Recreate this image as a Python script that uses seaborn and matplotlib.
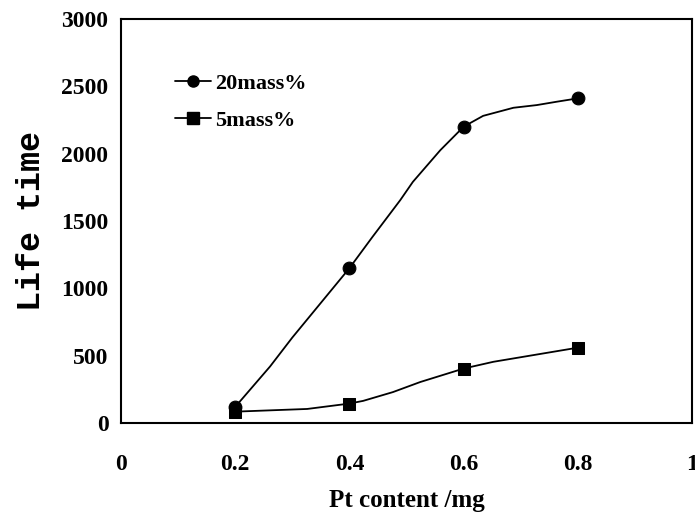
import matplotlib
matplotlib.use("Agg")
import matplotlib.pyplot as plt
from matplotlib.lines import Line2D
import seaborn as sns
import pandas as pd

# measured points (markers)
pt_content = [0.2, 0.4, 0.6, 0.8]
life_20 = [120, 1150, 2200, 2410]
life_5 = [80, 145, 405, 560]

# smoothed curve
curve_x_20 = [0.2, 0.261, 0.3, 0.4, 0.44, 0.489, 0.511, 0.559, 0.6, 0.634, 0.687, 0.728, 0.763, 0.8]
curve_y_20 = [120, 420, 635, 1150, 1380, 1655, 1790, 2025, 2200, 2280, 2340, 2360, 2385, 2410]
curve_x_5 = [0.2, 0.326, 0.4, 0.424, 0.476, 0.524, 0.6, 0.652, 0.8]
curve_y_5 = [85, 105, 145, 165, 230, 305, 405, 455, 560]

x_ticks = [0, 0.2, 0.4, 0.6, 0.8, 1]
x_tick_labels = ["0", "0.2", "0.4", "0.6", "0.8", "1"]
y_ticks = [0, 500, 1000, 1500, 2000, 2500, 3000]

sns.set_style("white")
plt.rcParams["font.family"] = ["Liberation Serif", "DejaVu Serif"]
plt.rcParams["font.weight"] = "bold"
plt.rcParams["text.color"] = "black"
plt.rcParams["axes.labelcolor"] = "black"

fig = plt.figure(figsize=(6.95, 5.23), dpi=100)
ax = fig.add_axes([0.174, 0.191, 0.822, 0.773])

df20 = pd.DataFrame({"x": curve_x_20, "y": curve_y_20})
df5 = pd.DataFrame({"x": curve_x_5, "y": curve_y_5})
sns.lineplot(data=df20, x="x", y="y", color="black", linewidth=1.3, ax=ax, sort=True)
sns.lineplot(data=df5, x="x", y="y", color="black", linewidth=1.3, ax=ax, sort=True)
sns.scatterplot(x=pt_content, y=life_20, marker="o", s=85, color="black", edgecolor="black", ax=ax, zorder=3)
sns.scatterplot(x=pt_content, y=life_5, marker="s", s=85, color="black", edgecolor="black", ax=ax, zorder=3)

ax.set_xlim(0, 1)
ax.set_ylim(0, 3000)
ax.set_xticks(x_ticks)
ax.set_xticklabels(x_tick_labels)
ax.set_yticks(y_ticks)
ax.tick_params(axis="both", direction="in", length=7, width=1.2, labelsize=17,
               colors="black", labelcolor="black")
ax.tick_params(axis="y", pad=9)
ax.tick_params(axis="x", pad=22)
for lab in ax.get_xticklabels() + ax.get_yticklabels():
    lab.set_fontweight("bold")
for sp in ax.spines.values():
    sp.set_visible(True)
    sp.set_color("black")
    sp.set_linewidth(1.5)

ax.set_xlabel("Pt content /mg", fontsize=18, fontweight="bold", labelpad=10)
ax.set_ylabel("Life time", fontsize=24, fontweight="bold", family=["Liberation Mono", "DejaVu Sans Mono"], labelpad=10)

handles = [
    Line2D([], [], color="black", marker="o", markersize=8, linewidth=1.3),
    Line2D([], [], color="black", marker="s", markersize=8, linewidth=1.3),
]
ax.legend(handles, ["20mass%", "5mass%"], loc="upper left", bbox_to_anchor=(0.06, 0.915),
          frameon=False, handlelength=1.6, handletextpad=0.2, labelspacing=0.75,
          prop={"weight": "bold", "size": 16})

fig.savefig("out.png", dpi=100)
